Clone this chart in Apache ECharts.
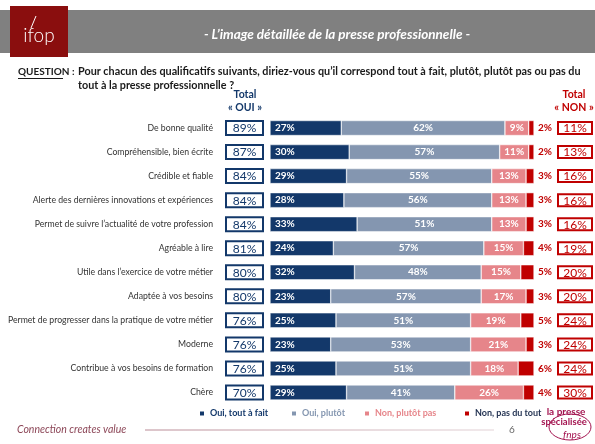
<!DOCTYPE html>
<html><head><meta charset="utf-8">
<script src="https://cdn.jsdelivr.net/npm/echarts@6/dist/echarts.min.js"></script>
<style>html,body{margin:0;padding:0;background:#fff}#c{width:595px;height:444px}</style>
</head><body><div id="c"></div>
<script>
const categories = ["De bonne qualité","Compréhensible, bien écrite","Crédible et fiable","Alerte des dernières innovations et expériences","Permet de suivre l’actualité de votre profession","Agréable à lire","Utile dans l’exercice de votre métier","Adaptée à vos besoins","Permet de progresser dans la pratique de votre métier","Moderne","Contribue à vos besoins de formation","Chère"];
const ouiToutAFait = [27,30,29,28,33,24,32,23,25,23,25,29];
const ouiPlutot    = [62,57,55,56,51,57,48,57,51,53,51,41];
const nonPlutotPas = [9,11,13,13,13,15,15,17,19,21,18,26];
const nonPasDuTout = [2,2,3,3,3,4,5,3,5,3,6,4];
const totalOui = [89,87,84,84,84,81,80,80,76,76,76,70];
const totalNon = [11,13,16,16,16,19,20,20,24,24,24,30];
const seriesNames = ["Oui, tout à fait","Oui, plutôt","Non, plutôt pas","Non, pas du tout"];

const NAVY='#13386a', GREYBLUE='#8496b0', PINK='#e6858a', RED='#c00000';
const FONT='Lato';
const chart = echarts.init(document.getElementById('c'), null, {renderer:'canvas'});

function mk(name, data, color, label){
  return {name, type:'bar', stack:'t', data, barWidth:15,
    itemStyle:{color, borderColor:'#fff', borderWidth:0.5},
    label: Object.assign({show:true, fontFamily:FONT, fontSize:10, fontWeight:'bold', color:'#fff', formatter:'{c}%'}, label)};
}
const legendPos=[193,285,358,458];
const legendColors=[NAVY,GREYBLUE,PINK,'#1f2f4f'];
const iconColors=[NAVY,GREYBLUE,PINK,RED];

chart.setOption({
  animation:false,
  textStyle:{fontFamily:FONT},
  grid:{left:270, right:61, top:116, height:288.5, containLabel:false, outerBoundsMode:'none'},
  xAxis:{type:'value', min:0, max:100, show:false},
  yAxis:[{
    type:'category', inverse:true, data:categories,
    axisLine:{show:false}, axisTick:{show:false},
    axisLabel:{margin:8, formatter:(v,i)=>'{n|'+v+'}{g|}{b|'+totalOui[i]+'%}',
      rich:{
        n:{fontFamily:FONT, fontSize:8.7, color:'#333'},
        g:{width:14},
        b:{fontFamily:FONT, fontSize:12, color:NAVY, borderColor:NAVY, borderWidth:2, width:31, height:11, lineHeight:11, align:'center', padding:[1,2,0,2], backgroundColor:'#fff'}
      }}
  },{
    type:'category', inverse:true, data:categories, position:'right',
    axisLine:{show:false}, axisTick:{show:false},
    axisLabel:{margin:24, formatter:(v,i)=>'{b|'+totalNon[i]+'%}',
      rich:{b:{fontFamily:FONT, fontSize:12, color:RED, borderColor:RED, borderWidth:2, width:30, height:11, lineHeight:11, align:'center', padding:[1,2,0,2]}}}
  }],
  legend: seriesNames.map((n,i)=>({
    left:legendPos[i], top:404, icon:'rect', itemWidth:6, itemHeight:6, itemGap:4,
    data:[{name:n, itemStyle:{color:iconColors[i]}}],
    textStyle:{fontFamily:FONT, fontSize:9, fontWeight:'bold', color:legendColors[i]}
  })),
  series:[
    mk(seriesNames[0], ouiToutAFait, NAVY, {position:'insideLeft', distance:5}),
    mk(seriesNames[1], ouiPlutot, GREYBLUE, {position:'inside'}),
    mk(seriesNames[2], nonPlutotPas, PINK, {position:'inside'}),
    mk(seriesNames[3], nonPasDuTout, RED, {position:'right', distance:4, color:RED})
  ],
  graphic:[
    {type:'rect', shape:{x:0,y:10,width:595,height:43}, style:{fill:'#808080'}},
    {type:'rect', shape:{x:10,y:6,width:58,height:51}, style:{fill:'#8a0e0e'}},
    {type:'text', x:39, y:36, style:{text:'ifop', fill:'#fff', font:'300 19px Lato', align:'center', verticalAlign:'middle'}},
    {type:'line', shape:{x1:31,y1:28,x2:36,y2:16}, style:{stroke:'#fff', lineWidth:1}},
    {type:'text', x:337, y:35, style:{text:'- L’image détaillée de la presse professionnelle -', fill:'#fff', font:'italic bold 13.5px Lato', align:'center', verticalAlign:'middle'}},
    {type:'text', x:18, y:72, style:{text:'QUESTION :', fill:'#1a1a1a', font:'bold 10px Lato', verticalAlign:'middle'}},
    {type:'line', shape:{x1:18,y1:78.5,x2:63,y2:78.5}, style:{stroke:'#1a1a1a', lineWidth:1}},
    {type:'text', x:78, y:72, style:{text:'Pour chacun des qualificatifs suivants, diriez-vous qu’il correspond tout à fait, plutôt, plutôt pas ou pas du', fill:'#1a1a1a', font:'bold 10.8px Lato', verticalAlign:'middle'}},
    {type:'text', x:78, y:86, style:{text:'tout à la presse professionnelle ?', fill:'#1a1a1a', font:'bold 10.8px Lato', verticalAlign:'middle'}},
    {type:'text', x:245, y:95, style:{text:'Total', fill:NAVY, font:'bold 10.5px Lato', align:'center', verticalAlign:'middle'}},
    {type:'text', x:245, y:108, style:{text:'« OUI »', fill:NAVY, font:'bold 10.5px Lato', align:'center', verticalAlign:'middle'}},
    {type:'text', x:574, y:95, style:{text:'Total', fill:RED, font:'bold 10.5px Lato', align:'center', verticalAlign:'middle'}},
    {type:'text', x:574, y:108, style:{text:'« NON »', fill:RED, font:'bold 10.5px Lato', align:'center', verticalAlign:'middle'}},
    {type:'text', x:17, y:430, style:{text:'Connection creates value', fill:'#8c4657', font:'italic 10.5px Lato', verticalAlign:'middle'}},
    {type:'line', shape:{x1:145,y1:430,x2:494,y2:430}, style:{stroke:{type:'linear',x:0,y:0,x2:1,y2:0,colorStops:[{offset:0,color:'#b98a95'},{offset:1,color:'#e3d3d7'}]}, lineWidth:1}},
    {type:'text', x:512, y:430, style:{text:'6', fill:'#666', font:'10px Lato', align:'center', verticalAlign:'middle'}},
    {type:'text', x:566, y:412, style:{text:'la presse', fill:'#a3134f', font:'bold 10px Lato', align:'center', verticalAlign:'middle'}},
    {type:'text', x:564, y:422, style:{text:'spécialisée', fill:'#a3134f', font:'bold 9.5px Lato', align:'center', verticalAlign:'middle'}},
    {type:'ellipse', shape:{cx:570,cy:427,rx:21,ry:13}, style:{fill:'none', stroke:'#a3134f', lineWidth:1}},
    {type:'text', x:572, y:435, style:{text:'fnps', fill:'#a3134f', font:'italic 10px Lato', align:'center', verticalAlign:'middle'}}
  ]
});
</script></body></html>
